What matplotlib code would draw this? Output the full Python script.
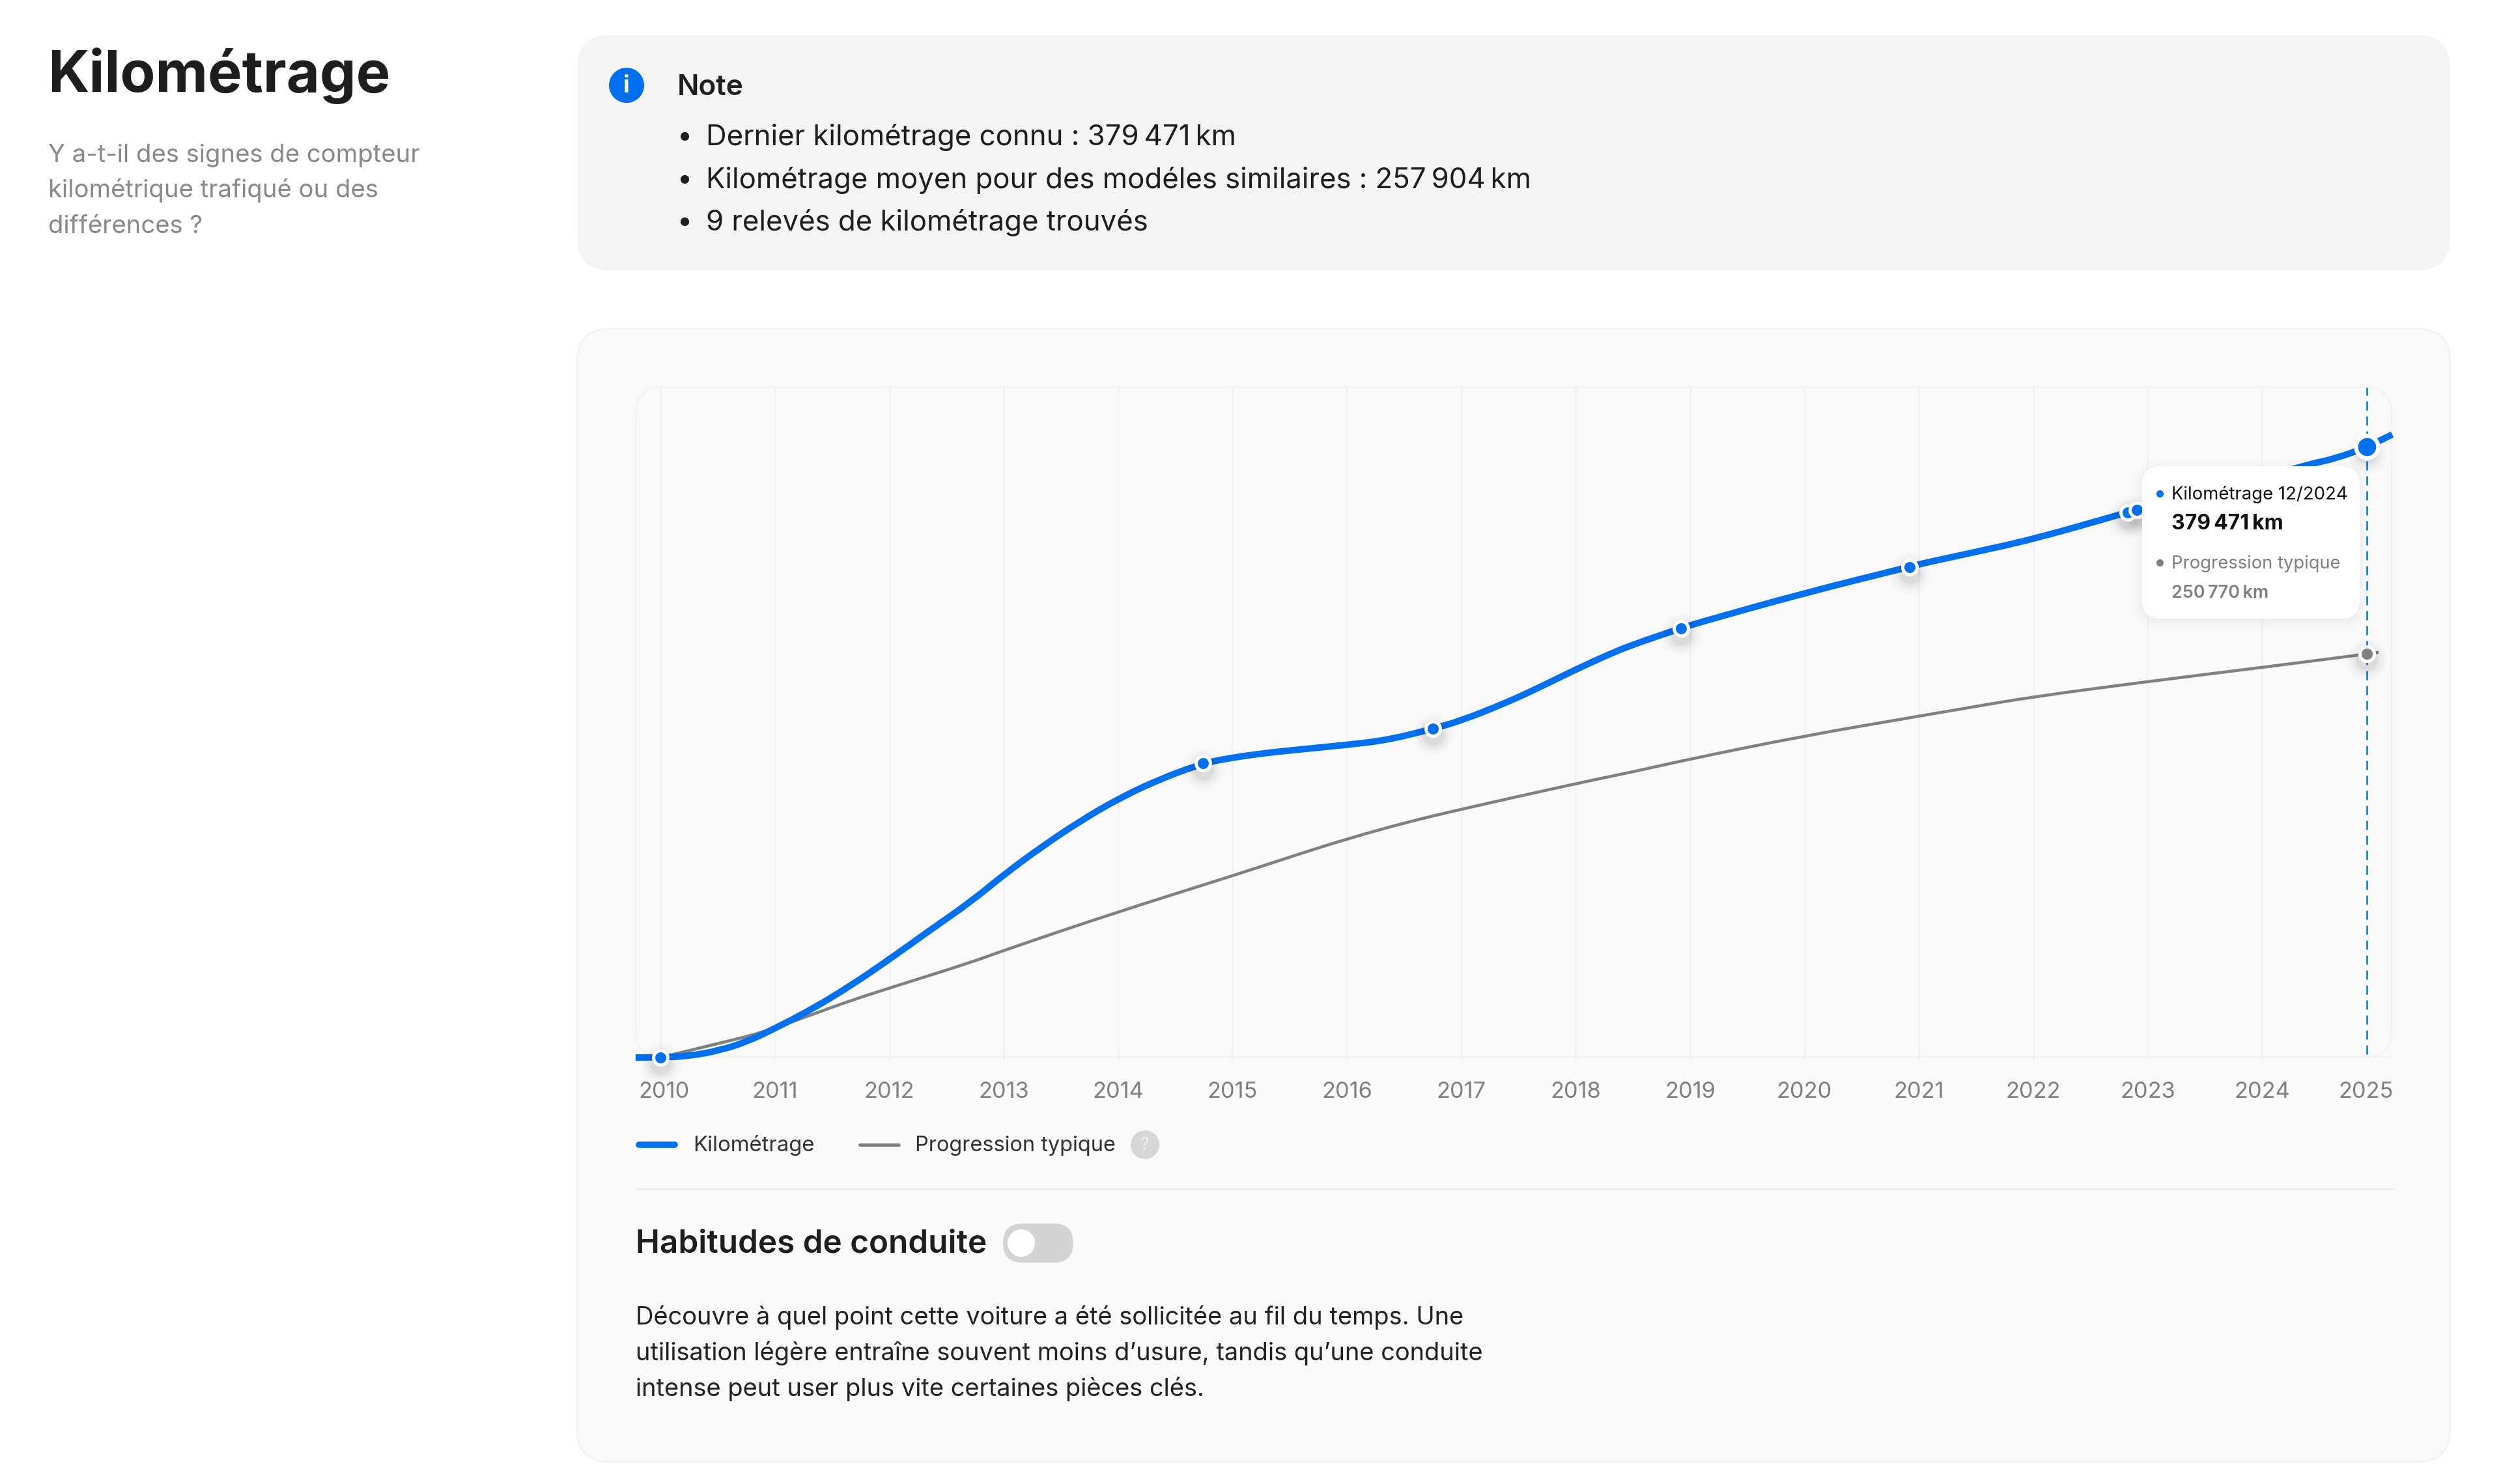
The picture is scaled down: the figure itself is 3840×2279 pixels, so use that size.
import matplotlib
matplotlib.use('Agg')
import matplotlib.pyplot as plt
from matplotlib.patches import FancyBboxPatch, Circle, PathPatch
from matplotlib.path import Path
from matplotlib.transforms import offset_copy, ScaledTranslation

plt.rcParams['font.family'] = ['Inter', 'DejaVu Sans']

BLUE = '#0070EF'
GREY = '#808080'
DARK = '#1E1E1E'

# values
year_labels = list(range(2010, 2026))
grid_years = list(range(2010, 2025))

km_years = [2009.78, 2010.0, 2010.25, 2010.51, 2010.75, 2011.0, 2011.32, 2011.65, 2012.0, 2012.37,
            2012.71, 2013.0, 2013.32, 2013.66, 2014.0, 2014.36, 2014.74, 2015.0, 2015.31, 2015.6,
            2016.0, 2016.35, 2016.75, 2017.0, 2017.36, 2017.64, 2018.0, 2018.29, 2018.5, 2018.92,
            2019.0, 2020.0, 2020.92, 2021.0, 2021.42, 2022.0, 2022.83, 2022.91, 2023.5, 2024.0,
            2024.4, 2024.65, 2024.92, 2025.14]
km_values = [0, 0, 900, 4300, 9700, 18100, 29900, 44100, 61000, 79900,
             96700, 113600, 130400, 146600, 160800, 172900, 182800, 186400, 189400, 191500,
             194300, 197200, 204200, 209400, 219500, 228500, 241100, 250500, 256600, 266700,
             268700, 288700, 304900, 306500, 313000, 322000, 338900, 340500, 350500, 360000,
             368500, 372300, 379471, 387150]

typ_years = [2010.0, 2010.13, 2010.51, 2010.89, 2011.32, 2011.65, 2012.0, 2012.71, 2013.0, 2014.0,
             2015.0, 2015.61, 2016.0, 2016.51, 2017.0, 2018.0, 2018.52, 2019.0, 2020.0, 2021.0,
             2021.42, 2022.0, 2023.0, 2024.0, 2024.92, 2025.02]
typ_values = [0, 2300, 8800, 15500, 26600, 35100, 43200, 59000, 66600, 90600,
              112900, 127100, 135800, 146000, 154300, 170200, 177800, 185500, 199900, 212100,
              217200, 224200, 233600, 242400, 250770, 251800]

reading_years = [2010.0, 2014.74, 2016.75, 2018.92, 2020.92, 2022.83, 2022.91]
reading_values = [0, 182800, 204200, 266700, 304900, 338900, 340500]
last_year = 2024.92
last_km = 379471
last_typ = 250770

note_lines = ['Dernier kilométrage connu : 379\u202f471\u202fkm',
              'Kilométrage moyen pour des modéles similaires : 257\u202f904\u202fkm',
              '9 relevés de kilométrage trouvés']
sub_lines = ['Y a-t-il des signes de compteur', 'kilométrique trafiqué ou des', 'différences ?']
para_lines = ['Découvre à quel point cette voiture a été sollicitée au fil du temps. Une',
              'utilisation légère entraîne souvent moins d’usure, tandis qu’une conduite',
              'intense peut user plus vite certaines pièces clés.']

W, H = 3840, 2279
fig = plt.figure(figsize=(W / 100, H / 100), dpi=100, facecolor='white')

# page layer, in pixels
bg = fig.add_axes([0, 0, 1, 1], zorder=0)
bg.set_xlim(0, W)
bg.set_ylim(H, 0)
bg.axis('off')

top = fig.add_axes([0, 0, 1, 1], zorder=5)
top.set_xlim(0, W)
top.set_ylim(H, 0)
top.axis('off')


def box(ax, x0, y0, x1, y1, r, fc, ec='none', lw=0, z=1):
    p = FancyBboxPatch((x0, y0), x1 - x0, y1 - y0, boxstyle='round,pad=0,rounding_size=%d' % r,
                       fc=fc, ec=ec, lw=lw, zorder=z)
    ax.add_patch(p)


def txt(ax, x, y, s, size, color=DARK, weight='normal', ha='left'):
    ax.text(x, y, s, fontsize=size, color=color, fontweight=weight, ha=ha, va='baseline', zorder=6)


def smooth_line(ax, xs, ys, color, lw, z):
    # quadratic spline through the midpoints of the read values, the source curve is smooth
    verts = [(xs[0], ys[0])]
    codes = [Path.MOVETO]
    for i in range(1, len(xs) - 1):
        verts += [(xs[i], ys[i]), ((xs[i] + xs[i + 1]) / 2, (ys[i] + ys[i + 1]) / 2)]
        codes += [Path.CURVE3, Path.CURVE3]
    verts.append((xs[-1], ys[-1]))
    codes.append(Path.LINETO)
    ax.add_patch(PathPatch(Path(verts, codes), fc='none', ec=color, lw=lw, zorder=z,
                           clip_on=False, capstyle='butt'))


box(bg, 886, 54, 3762, 415, 50, '#F4F4F4')
box(bg, 886, 505, 3762, 2245, 50, '#F9F9F9', ec='#F3F3F3', lw=2)
box(bg, 976, 595, 3672, 1623, 40, 'none', ec='#F2F2F2', lw=2, z=2)

txt(bg, 73, 141, 'Kilométrage', 63.5, weight='bold')
for line, y in zip(sub_lines, [249, 303, 358]):
    txt(bg, 74, y, line, 27.5, color='#888888')

# info icon
bg.add_patch(Circle((962, 131), 27, fc=BLUE, ec='none', zorder=3))
bg.text(962, 132, 'i', fontsize=26, color='white', fontweight='bold', ha='center', va='center', zorder=4)
txt(bg, 1040, 146, 'Note', 31.7, weight='semibold')
for line, y in zip(note_lines, [223, 289, 354]):
    bg.plot([1051], [y - 14], 'o', ms=9.5, color=DARK, mew=0, zorder=3)
    txt(bg, 1084, y, line, 31.5)

# chart
ax = fig.add_axes([976 / W, 1 - 1624 / H, (3672 - 976) / W, (1624 - 595) / H], zorder=2)
ax.patch.set_alpha(0)
ax.set_xlim(2009.781, 2025.134)
ax.set_ylim(0, 416400)
for s in ax.spines.values():
    s.set_visible(False)
ax.set_yticks([])
ax.vlines(grid_years, -1500, 416400, color='#EEF2F8', lw=2, zorder=1, clip_on=False)
ax.axhline(600, color='#F1F1F1', lw=2, zorder=1)

ax.set_xticks(year_labels, [str(y) for y in year_labels])
ax.tick_params(axis='x', length=0, pad=27, labelsize=24.7, labelcolor=GREY)
labels = ax.get_xticklabels()
labels[0].set_transform(labels[0].get_transform() + ScaledTranslation(5 / 100, 0, fig.dpi_scale_trans))
labels[-1].set_transform(labels[-1].get_transform() + ScaledTranslation(-16 / 100, 0, fig.dpi_scale_trans))

smooth_line(ax, typ_years, typ_values, GREY, 3.3, 2)
smooth_line(ax, km_years, km_values, BLUE, 7.2, 3)
ax.plot([last_year, last_year], [2000, 416400], color=BLUE, lw=1.8, ls=(0, (5.6, 3.6)), zorder=3.5)

# soft shadow under the points
shadow = offset_copy(ax.transData, fig=fig, x=0, y=-9, units='dots')
all_x = reading_years + [last_year, last_year]
all_y = reading_values + [last_km, last_typ]
for ms, a in [(46, 0.012), (40, 0.016), (34, 0.022), (28, 0.03), (23, 0.04)]:
    ax.plot(all_x, all_y, 'o', ms=ms, color='black', alpha=a, mew=0, zorder=3.6, transform=shadow, clip_on=False)

ax.plot(reading_years, reading_values, 'o', ms=15.8, mfc=BLUE, mec='white', mew=3.6, zorder=4, clip_on=False)
ax.plot([last_year], [last_km], 'o', ms=24.5, mfc=BLUE, mec='white', mew=4.6, zorder=4, clip_on=False)
ax.plot([last_year], [last_typ], 'o', ms=16, mfc=GREY, mec='white', mew=3.6, zorder=4, clip_on=False)

# tooltip
for grow, a in [(14, 0.006), (9, 0.008), (5, 0.01), (2, 0.012)]:
    box(top, 3289 - grow, 716 - grow + 3, 3623 + grow, 950 + grow + 3, 28 + grow, (0, 0, 0, a), z=1)
box(top, 3289, 716, 3623, 950, 28, 'white', z=2)
top.plot([3316], [758], 'o', ms=8, color=BLUE, mew=0, zorder=3)
top.plot([3316], [864], 'o', ms=8, color=GREY, mew=0, zorder=3)
txt(top, 3334, 767, 'Kilométrage 12/2024', 19.8, color='#111111')
txt(top, 3334, 813, '379\u202f471\u202fkm', 23, color='#111111', weight='bold')
txt(top, 3334, 873, 'Progression typique', 19.7, color=GREY)
txt(top, 3334, 918, '250\u202f770\u202fkm', 19.4, color=GREY, weight='semibold')

# legend
bg.plot([981, 1036], [1758, 1758], color=BLUE, lw=7, solid_capstyle='round', zorder=3)
bg.plot([1320, 1380], [1758, 1758], color=GREY, lw=3.6, solid_capstyle='round', zorder=3)
txt(bg, 1064, 1768, 'Kilométrage', 23.7, color='#333333')
txt(bg, 1405, 1768, 'Progression typique', 23.4, color='#333333')
bg.add_patch(Circle((1758, 1758), 22, fc='#D6D6D6', ec='none', zorder=3))
bg.text(1758, 1759, '?', fontsize=19, color='#F2F2F2', ha='center', va='center', zorder=4)

bg.plot([976, 3672], [1826, 1826], color='#EBEBEB', lw=2, zorder=3)

# driving habits
txt(bg, 976, 1924, 'Habitudes de conduite', 35.6, weight='semibold')
box(bg, 1540, 1879, 1648, 1939, 30, '#D4D4D4', z=3)
bg.add_patch(Circle((1568, 1909), 21, fc='white', ec='none', zorder=4))
for line, y in zip(para_lines, [2034, 2089, 2144]):
    txt(bg, 976, y, line, 27.4, color='#222222')

fig.savefig('out.png', dpi=100, facecolor='white')
